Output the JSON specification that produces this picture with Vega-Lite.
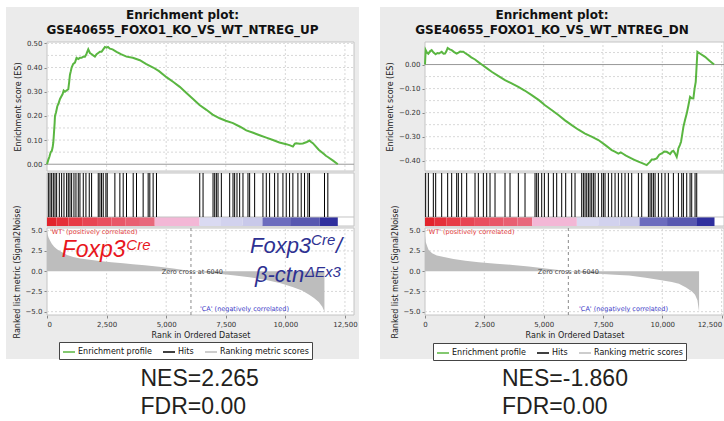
{
"$schema": "https://vega.github.io/schema/vega-lite/v6.json",
"background": "#ffffff",
"padding": {"left": 6, "top": 7, "right": 0, "bottom": 0},
"spacing": 21,
"resolve": {"scale": {"color": "independent"}, "legend": {"color": "independent"}},
"config": {
  "view": {"stroke": null},
  "axis": {"labelFont": "DejaVu Sans", "labelFontSize": 7, "labelColor": "#333333", "titleFont": "DejaVu Sans", "titleFontSize": 8, "titleFontWeight": "normal", "titleColor": "#222222", "tickColor": "#888888", "tickSize": 3, "labelPadding": 2, "titlePadding": 4, "grid": false, "domain": false}
},
"datasets": {
  "gridx": [{"rank": 2500}, {"rank": 5000}, {"rank": 7500}, {"rank": 10000}, {"rank": 12500}],
  "gyEsL": [{"v": 0.05}, {"v": 0.1}, {"v": 0.15}, {"v": 0.2}, {"v": 0.25}, {"v": 0.3}, {"v": 0.35}, {"v": 0.4}, {"v": 0.45}, {"v": 0.5}],
  "gyEsR": [{"v": -0.4}, {"v": -0.35}, {"v": -0.3}, {"v": -0.25}, {"v": -0.2}, {"v": -0.15}, {"v": -0.1}, {"v": -0.05}, {"v": 0.05}],
  "gyMet": [{"v": -5}, {"v": -2.5}, {"v": 2.5}, {"v": 5}],
  "bar": [
    {"start": 0, "end": 400, "score": 1}, {"start": 400, "end": 900, "score": 0.95}, {"start": 900, "end": 1500, "score": 0.9},
    {"start": 1500, "end": 2100, "score": 0.85}, {"start": 2100, "end": 2700, "score": 0.8}, {"start": 2700, "end": 3300, "score": 0.76},
    {"start": 3300, "end": 3900, "score": 0.72}, {"start": 3900, "end": 4520, "score": 0.67}, {"start": 4520, "end": 6400, "score": 0.3},
    {"start": 6400, "end": 7300, "score": -0.08}, {"start": 7300, "end": 8200, "score": -0.13}, {"start": 8200, "end": 9040, "score": -0.18},
    {"start": 9040, "end": 10200, "score": -0.6}, {"start": 10200, "end": 11430, "score": -0.65}, {"start": 11430, "end": 12200, "score": -1}
  ],
  "esL": [
    {"rank": 0, "es": 0}, {"rank": 60, "es": 0.02}, {"rank": 98, "es": 0.03}, {"rank": 154, "es": 0.05}, {"rank": 200, "es": 0.055},
    {"rank": 237, "es": 0.07}, {"rank": 265, "es": 0.09}, {"rank": 293, "es": 0.13}, {"rank": 320, "es": 0.17}, {"rank": 335, "es": 0.2},
    {"rank": 380, "es": 0.215}, {"rank": 433, "es": 0.24}, {"rank": 480, "es": 0.25}, {"rank": 545, "es": 0.27}, {"rank": 600, "es": 0.28},
    {"rank": 656, "es": 0.29}, {"rank": 700, "es": 0.305}, {"rank": 754, "es": 0.3}, {"rank": 820, "es": 0.305}, {"rank": 893, "es": 0.31},
    {"rank": 930, "es": 0.34}, {"rank": 963, "es": 0.37}, {"rank": 1000, "es": 0.385}, {"rank": 1033, "es": 0.4}, {"rank": 1100, "es": 0.415},
    {"rank": 1173, "es": 0.42}, {"rank": 1240, "es": 0.44}, {"rank": 1312, "es": 0.435}, {"rank": 1380, "es": 0.44}, {"rank": 1452, "es": 0.44},
    {"rank": 1520, "es": 0.445}, {"rank": 1591, "es": 0.445}, {"rank": 1650, "es": 0.455}, {"rank": 1731, "es": 0.475}, {"rank": 1800, "es": 0.46},
    {"rank": 1880, "es": 0.455}, {"rank": 1940, "es": 0.45}, {"rank": 2010, "es": 0.445}, {"rank": 2080, "es": 0.455}, {"rank": 2150, "es": 0.46},
    {"rank": 2220, "es": 0.465}, {"rank": 2289, "es": 0.465}, {"rank": 2360, "es": 0.475}, {"rank": 2430, "es": 0.485}, {"rank": 2499, "es": 0.482},
    {"rank": 2560, "es": 0.485}, {"rank": 2638, "es": 0.478}, {"rank": 2750, "es": 0.475}, {"rank": 2918, "es": 0.465}, {"rank": 3100, "es": 0.455},
    {"rank": 3336, "es": 0.445}, {"rank": 3600, "es": 0.44}, {"rank": 3895, "es": 0.43}, {"rank": 4150, "es": 0.415}, {"rank": 4453, "es": 0.4},
    {"rank": 4700, "es": 0.385}, {"rank": 5012, "es": 0.36}, {"rank": 5300, "es": 0.34}, {"rank": 5570, "es": 0.32}, {"rank": 5850, "es": 0.295},
    {"rank": 6128, "es": 0.27}, {"rank": 6400, "es": 0.245}, {"rank": 6687, "es": 0.225}, {"rank": 6950, "es": 0.205}, {"rank": 7245, "es": 0.19},
    {"rank": 7500, "es": 0.18}, {"rank": 7804, "es": 0.17}, {"rank": 8100, "es": 0.155}, {"rank": 8362, "es": 0.14}, {"rank": 8650, "es": 0.13},
    {"rank": 8920, "es": 0.12}, {"rank": 9200, "es": 0.11}, {"rank": 9479, "es": 0.1}, {"rank": 9750, "es": 0.09}, {"rank": 10037, "es": 0.083},
    {"rank": 10200, "es": 0.078}, {"rank": 10316, "es": 0.073}, {"rank": 10400, "es": 0.085}, {"rank": 10456, "es": 0.087}, {"rank": 10600, "es": 0.085},
    {"rank": 10735, "es": 0.086}, {"rank": 10900, "es": 0.092}, {"rank": 11015, "es": 0.098}, {"rank": 11080, "es": 0.092}, {"rank": 11154, "es": 0.087},
    {"rank": 11400, "es": 0.06}, {"rank": 11643, "es": 0.04}, {"rank": 11700, "es": 0.035}, {"rank": 11782, "es": 0.03}, {"rank": 12000, "es": 0.015},
    {"rank": 12200, "es": 0}
  ],
  "esR": [
    {"rank": 0, "es": 0}, {"rank": 28, "es": 0.06}, {"rank": 80, "es": 0.05}, {"rank": 141, "es": 0.045}, {"rank": 210, "es": 0.055},
    {"rank": 281, "es": 0.06}, {"rank": 360, "es": 0.05}, {"rank": 450, "es": 0.043}, {"rank": 520, "es": 0.048}, {"rank": 590, "es": 0.046},
    {"rank": 650, "es": 0.05}, {"rank": 702, "es": 0.053}, {"rank": 780, "es": 0.045}, {"rank": 843, "es": 0.046}, {"rank": 900, "es": 0.055},
    {"rank": 955, "es": 0.069}, {"rank": 1040, "es": 0.063}, {"rank": 1124, "es": 0.06}, {"rank": 1230, "es": 0.052}, {"rank": 1335, "es": 0.046},
    {"rank": 1410, "es": 0.05}, {"rank": 1480, "es": 0.054}, {"rank": 1546, "es": 0.053}, {"rank": 1616, "es": 0.053}, {"rank": 1700, "es": 0.047},
    {"rank": 1827, "es": 0.039}, {"rank": 1950, "es": 0.03}, {"rank": 2108, "es": 0.021}, {"rank": 2250, "es": 0.01}, {"rank": 2389, "es": 0},
    {"rank": 2600, "es": -0.015}, {"rank": 2810, "es": -0.03}, {"rank": 3100, "es": -0.048}, {"rank": 3372, "es": -0.065}, {"rank": 3650, "es": -0.078},
    {"rank": 3934, "es": -0.093}, {"rank": 4200, "es": -0.108}, {"rank": 4496, "es": -0.127}, {"rank": 4800, "es": -0.148}, {"rank": 5058, "es": -0.169},
    {"rank": 5350, "es": -0.19}, {"rank": 5620, "es": -0.21}, {"rank": 5900, "es": -0.232}, {"rank": 6182, "es": -0.252}, {"rank": 6450, "es": -0.27},
    {"rank": 6744, "es": -0.287}, {"rank": 7020, "es": -0.3}, {"rank": 7306, "es": -0.314}, {"rank": 7600, "es": -0.335}, {"rank": 7868, "es": -0.356},
    {"rank": 8000, "es": -0.362}, {"rank": 8149, "es": -0.37}, {"rank": 8250, "es": -0.365}, {"rank": 8360, "es": -0.372}, {"rank": 8450, "es": -0.378},
    {"rank": 8571, "es": -0.384}, {"rank": 8800, "es": -0.395}, {"rank": 8992, "es": -0.404}, {"rank": 9150, "es": -0.41}, {"rank": 9343, "es": -0.418},
    {"rank": 9414, "es": -0.411}, {"rank": 9480, "es": -0.405}, {"rank": 9554, "es": -0.395}, {"rank": 9650, "es": -0.395}, {"rank": 9765, "es": -0.39},
    {"rank": 9870, "es": -0.375}, {"rank": 9976, "es": -0.37}, {"rank": 10080, "es": -0.362}, {"rank": 10186, "es": -0.363}, {"rank": 10270, "es": -0.368},
    {"rank": 10327, "es": -0.372}, {"rank": 10400, "es": -0.362}, {"rank": 10467, "es": -0.359}, {"rank": 10540, "es": -0.37}, {"rank": 10608, "es": -0.384},
    {"rank": 10640, "es": -0.37}, {"rank": 10678, "es": -0.349}, {"rank": 10740, "es": -0.335}, {"rank": 10790, "es": -0.321}, {"rank": 10840, "es": -0.29},
    {"rank": 10889, "es": -0.259}, {"rank": 10960, "es": -0.23}, {"rank": 11029, "es": -0.204}, {"rank": 11100, "es": -0.17}, {"rank": 11170, "es": -0.134},
    {"rank": 11240, "es": -0.14}, {"rank": 11310, "es": -0.141}, {"rank": 11360, "es": -0.1}, {"rank": 11409, "es": -0.072}, {"rank": 11450, "es": 0},
    {"rank": 11479, "es": 0.053}, {"rank": 11600, "es": 0.045}, {"rank": 11802, "es": 0.032}, {"rank": 12000, "es": 0.015}, {"rank": 12181, "es": 0}
  ],
  "metL": [
    {"rank": 0, "m": 5.0}, {"rank": 20, "m": 4.6}, {"rank": 60, "m": 4.2}, {"rank": 125, "m": 3.8}, {"rank": 200, "m": 3.4},
    {"rank": 300, "m": 3.0}, {"rank": 420, "m": 2.7}, {"rank": 630, "m": 2.35}, {"rank": 840, "m": 2.0}, {"rank": 1100, "m": 1.75},
    {"rank": 1400, "m": 1.55}, {"rank": 1800, "m": 1.4}, {"rank": 2200, "m": 1.25}, {"rank": 2700, "m": 1.1}, {"rank": 3200, "m": 0.97},
    {"rank": 3600, "m": 0.86}, {"rank": 4100, "m": 0.72}, {"rank": 4700, "m": 0.55}, {"rank": 5300, "m": 0.33}, {"rank": 5800, "m": 0.1},
    {"rank": 6040, "m": 0}, {"rank": 6500, "m": -0.15}, {"rank": 7200, "m": -0.33}, {"rank": 7800, "m": -0.5}, {"rank": 8500, "m": -0.75},
    {"rank": 9200, "m": -1.1}, {"rank": 9800, "m": -1.5}, {"rank": 10300, "m": -1.95}, {"rank": 10700, "m": -2.4}, {"rank": 11000, "m": -2.9},
    {"rank": 11200, "m": -3.3}, {"rank": 11400, "m": -3.8}, {"rank": 11550, "m": -4.4}, {"rank": 11640, "m": -5.0}
  ],
  "metR": [
    {"rank": 0, "m": 4.4}, {"rank": 30, "m": 3.6}, {"rank": 100, "m": 3.0}, {"rank": 155, "m": 2.6}, {"rank": 300, "m": 2.2},
    {"rank": 500, "m": 1.95}, {"rank": 845, "m": 1.72}, {"rank": 1200, "m": 1.5}, {"rank": 1700, "m": 1.28}, {"rank": 2265, "m": 1.11},
    {"rank": 3000, "m": 0.93}, {"rank": 3700, "m": 0.76}, {"rank": 4370, "m": 0.58}, {"rank": 4900, "m": 0.4}, {"rank": 5450, "m": 0.2},
    {"rank": 6040, "m": 0}, {"rank": 6600, "m": -0.18}, {"rank": 7300, "m": -0.33}, {"rank": 8000, "m": -0.45}, {"rank": 8600, "m": -0.53},
    {"rank": 9300, "m": -0.8}, {"rank": 9900, "m": -1.1}, {"rank": 10400, "m": -1.35}, {"rank": 10700, "m": -1.56}, {"rank": 11000, "m": -2.0},
    {"rank": 11250, "m": -2.5}, {"rank": 11380, "m": -2.9}, {"rank": 11480, "m": -3.6}, {"rank": 11550, "m": -5.0}
  ],
  "hitsL": [
    {"rank": 56}, {"rank": 126}, {"rank": 195}, {"rank": 265}, {"rank": 335}, {"rank": 405}, {"rank": 517}, {"rank": 614}, {"rank": 712}, {"rank": 824},
    {"rank": 893}, {"rank": 963}, {"rank": 1033}, {"rank": 1131}, {"rank": 1215}, {"rank": 1312}, {"rank": 1382}, {"rank": 1522}, {"rank": 1633}, {"rank": 1773},
    {"rank": 1871}, {"rank": 2150}, {"rank": 2220}, {"rank": 2289}, {"rank": 2359}, {"rank": 2471}, {"rank": 2527}, {"rank": 2848}, {"rank": 3057}, {"rank": 3197},
    {"rank": 3336}, {"rank": 3616}, {"rank": 3755}, {"rank": 4034}, {"rank": 4244}, {"rank": 4314}, {"rank": 4453}, {"rank": 4593}, {"rank": 6408}, {"rank": 6547},
    {"rank": 6966}, {"rank": 7036}, {"rank": 7105}, {"rank": 7175}, {"rank": 7315}, {"rank": 7664}, {"rank": 7804}, {"rank": 7873}, {"rank": 7971}, {"rank": 8083},
    {"rank": 8222}, {"rank": 8432}, {"rank": 8502}, {"rank": 8711}, {"rank": 9060}, {"rank": 9200}, {"rank": 9339}, {"rank": 9549}, {"rank": 9688}, {"rank": 9898},
    {"rank": 10037}, {"rank": 10177}, {"rank": 10316}, {"rank": 10526}, {"rank": 10665}, {"rank": 10805}, {"rank": 10945}, {"rank": 11014}, {"rank": 11643}, {"rank": 11782}
  ],
  "hitsR": [
    {"rank": 28}, {"rank": 141}, {"rank": 351}, {"rank": 450}, {"rank": 703}, {"rank": 955}, {"rank": 1124}, {"rank": 1335}, {"rank": 1405}, {"rank": 1546},
    {"rank": 1756}, {"rank": 2108}, {"rank": 2248}, {"rank": 2459}, {"rank": 2599}, {"rank": 2740}, {"rank": 2951}, {"rank": 3372}, {"rank": 3583}, {"rank": 3934},
    {"rank": 4215}, {"rank": 4637}, {"rank": 4707}, {"rank": 4777}, {"rank": 4918}, {"rank": 5030}, {"rank": 5199}, {"rank": 5409}, {"rank": 5550}, {"rank": 5761},
    {"rank": 5929}, {"rank": 6182}, {"rank": 6323}, {"rank": 6604}, {"rank": 6674}, {"rank": 6744}, {"rank": 6815}, {"rank": 6885}, {"rank": 6955}, {"rank": 7025},
    {"rank": 7095}, {"rank": 7166}, {"rank": 7306}, {"rank": 7447}, {"rank": 7517}, {"rank": 7587}, {"rank": 7728}, {"rank": 7868}, {"rank": 8009}, {"rank": 8149},
    {"rank": 8290}, {"rank": 8430}, {"rank": 8571}, {"rank": 8711}, {"rank": 8992}, {"rank": 9133}, {"rank": 9414}, {"rank": 9484}, {"rank": 9554}, {"rank": 9624},
    {"rank": 9695}, {"rank": 9835}, {"rank": 9976}, {"rank": 10116}, {"rank": 10256}, {"rank": 10467}, {"rank": 10678}, {"rank": 10819}, {"rank": 10889}, {"rank": 11029},
    {"rank": 11170}, {"rank": 11240}, {"rank": 11381}, {"rank": 11451}
  ]
},
"hconcat": [
  {
    "spacing": 7,
    "vconcat": [
      {
        "width": 353, "height": 352,
        "view": {"fill": "#ebebeb", "stroke": null},
        "title": {"text": ["Enrichment plot:", "GSE40655_FOXO1_KO_VS_WT_NTREG_UP"], "offset": -30, "frame": "group", "anchor": "middle", "font": "DejaVu Sans", "fontSize": 12, "fontWeight": "bold", "lineHeight": 15.5, "color": "#111111"},
        "resolve": {"scale": {"y": "independent"}, "axis": {"y": "independent"}},
        "layer": [
          {"layer": [
            {"data": {"values": [{}]}, "mark": {"type": "rect", "fill": "#ffffff", "stroke": "#c4c4c4", "strokeWidth": 1},
             "encoding": {"x": {"datum": 0, "type": "quantitative", "scale": {"domain": [0, 12880], "range": [41, 348], "nice": false, "zero": false},
                     "axis": {"orient": "bottom", "offset": -44, "values": [0, 2500, 5000, 7500, 10000, 12500], "labelExpr": "format(datum.value, ',')", "title": "Rank in Ordered Dataset", "labelOverlap": false}},
               "x2": {"datum": 12880},
               "y": {"datum": -0.028, "type": "quantitative", "scale": {"domain": [-0.028, 0.5055], "range": [164, 35], "nice": false, "zero": false},
                     "axis": {"orient": "left", "offset": -41, "values": [0, 0.05, 0.1, 0.15, 0.2, 0.25, 0.3, 0.35, 0.4, 0.45, 0.5], "format": ".2f", "title": "Enrichment score (ES)", "labelOverlap": false}},
               "y2": {"datum": 0.5055}}},
            {"data": {"name": "gridx"}, "mark": {"type": "rule", "stroke": "#d8d8d8", "strokeDash": [2, 2]},
             "encoding": {"x": {"field": "rank", "type": "quantitative"}, "y": {"datum": -0.028, "type": "quantitative"}, "y2": {"datum": 0.5055}}},
            {"data": {"name": "gyEsL"}, "mark": {"type": "rule", "stroke": "#d8d8d8", "strokeDash": [2, 2]},
             "encoding": {"x": {"datum": 0, "type": "quantitative"}, "x2": {"datum": 12880}, "y": {"field": "v", "type": "quantitative"}}},
            {"data": {"values": [{}]}, "mark": {"type": "rule", "stroke": "#999999"},
             "encoding": {"x": {"datum": 0, "type": "quantitative"}, "x2": {"datum": 12880}, "y": {"datum": 0, "type": "quantitative"}}},
            {"data": {"name": "esL"}, "mark": {"type": "line", "strokeWidth": 2},
             "encoding": {"x": {"field": "rank", "type": "quantitative"}, "y": {"field": "es", "type": "quantitative"},
               "color": {"datum": "Enrichment profile", "type": "nominal",
                 "scale": {"domain": ["Enrichment profile", "Hits", "Ranking metric scores"], "range": ["#5ab641", "#000000", "#bdbdbd"]},
                 "legend": {"title": null, "orient": "none", "legendX": 53, "legendY": 335, "direction": "horizontal", "symbolType": "stroke", "symbolSize": 144, "symbolStrokeWidth": 1.5, "labelFont": "DejaVu Sans", "labelFontSize": 8, "labelColor": "#111111", "fillColor": "#ffffff", "strokeColor": "#444444", "padding": 3, "columnPadding": 8, "labelOffset": 2}}}}
          ]},
          {"layer": [
            {"data": {"values": [{}]}, "mark": {"type": "rect", "fill": "#ffffff", "stroke": "#c4c4c4", "strokeWidth": 1},
             "encoding": {"x": {"datum": 0, "type": "quantitative"}, "x2": {"datum": 12880},
               "y": {"datum": 0, "type": "quantitative", "scale": {"domain": [0, 1], "range": [219, 166], "nice": false, "zero": false}, "axis": null},
               "y2": {"datum": 1}}},
            {"data": {"name": "bar"}, "mark": {"type": "rect"},
             "encoding": {"x": {"field": "start", "type": "quantitative"}, "x2": {"field": "end"},
               "y": {"datum": 0, "type": "quantitative", "axis": null}, "y2": {"datum": 0.17},
               "fill": {"field": "score", "type": "quantitative", "legend": null,
                 "scale": {"type": "linear", "domain": [-1, -0.65, -0.6, -0.2, -0.08, 0.3, 0.67, 1], "range": ["#2f2f9e", "#5858b0", "#6c6cbe", "#c6c6e8", "#dadaf2", "#f3b7d6", "#e8687c", "#e2232b"]}}}},
            {"data": {"values": [{}]}, "mark": {"type": "rule", "stroke": "#c4c4c4"},
             "encoding": {"x": {"datum": 0, "type": "quantitative"}, "x2": {"datum": 12880}, "y": {"datum": 0.17, "type": "quantitative", "axis": null}}},
            {"data": {"name": "hitsL"}, "mark": {"type": "rule", "strokeWidth": 1},
             "encoding": {"x": {"field": "rank", "type": "quantitative"}, "y": {"datum": 0.17, "type": "quantitative", "axis": null}, "y2": {"datum": 1},
               "color": {"datum": "Hits", "type": "nominal"}}}
          ]},
          {"layer": [
            {"data": {"values": [{}]}, "mark": {"type": "rect", "fill": "#ffffff", "stroke": "#c4c4c4", "strokeWidth": 1},
             "encoding": {"x": {"datum": 0, "type": "quantitative"}, "x2": {"datum": 12880},
               "y": {"datum": -5.41, "type": "quantitative", "scale": {"domain": [-5.41, 5.33], "range": [308, 221], "nice": false, "zero": false},
                     "axis": {"orient": "left", "offset": -41, "values": [-5, -2.5, 0, 2.5, 5], "format": ".1f", "title": "Ranked list metric (Signal2Noise)", "labelOverlap": false}},
               "y2": {"datum": 5.33}}},
            {"data": {"name": "gridx"}, "mark": {"type": "rule", "stroke": "#d8d8d8", "strokeDash": [2, 2]},
             "encoding": {"x": {"field": "rank", "type": "quantitative"}, "y": {"datum": -5.41, "type": "quantitative"}, "y2": {"datum": 5.33}}},
            {"data": {"name": "gyMet"}, "mark": {"type": "rule", "stroke": "#d8d8d8", "strokeDash": [2, 2]},
             "encoding": {"x": {"datum": 0, "type": "quantitative"}, "x2": {"datum": 12880}, "y": {"field": "v", "type": "quantitative"}}},
            {"data": {"name": "metL"}, "mark": {"type": "area"},
             "encoding": {"x": {"field": "rank", "type": "quantitative"},
               "y": {"field": "m", "type": "quantitative"}, "y2": {"datum": 0},
               "color": {"datum": "Ranking metric scores", "type": "nominal"}}},
            {"data": {"values": [{"rank": 6040}]}, "mark": {"type": "rule", "stroke": "#8a8a8a", "strokeDash": [3, 3]},
             "encoding": {"x": {"field": "rank", "type": "quantitative"}, "y": {"datum": -5.41, "type": "quantitative"}, "y2": {"datum": 5.33}}},
            {"data": {"values": [{"rank": 126, "m": 4.87, "t": "'WT' (positively correlated)"}]}, "mark": {"type": "text", "align": "left", "baseline": "middle", "font": "DejaVu Sans", "fontSize": 6.5, "color": "#e23a3a"},
             "encoding": {"x": {"field": "rank", "type": "quantitative"}, "y": {"field": "m", "type": "quantitative"}, "text": {"field": "t"}}},
            {"data": {"values": [{"rank": 6100, "m": -0.06, "t": "Zero cross at 6040"}]}, "mark": {"type": "text", "align": "center", "baseline": "middle", "font": "DejaVu Sans", "fontSize": 6.5, "color": "#444444"},
             "encoding": {"x": {"field": "rank", "type": "quantitative"}, "y": {"field": "m", "type": "quantitative"}, "text": {"field": "t"}}},
            {"data": {"values": [{"rank": 6418, "m": -4.67, "t": "'CA' (negatively correlated)"}]}, "mark": {"type": "text", "align": "left", "baseline": "middle", "font": "DejaVu Sans", "fontSize": 6.5, "color": "#3c3cc8"},
             "encoding": {"x": {"field": "rank", "type": "quantitative"}, "y": {"field": "m", "type": "quantitative"}, "text": {"field": "t"}}},
            {"data": {"values": [{"rank": 617, "m": 1.79, "t": "Foxp3"}]}, "mark": {"type": "text", "align": "left", "baseline": "alphabetic", "font": "Liberation Sans", "fontStyle": "italic", "fontSize": 23, "color": "#e8161d"},
             "encoding": {"x": {"field": "rank", "type": "quantitative"}, "y": {"field": "m", "type": "quantitative"}, "text": {"field": "t"}}},
            {"data": {"values": [{"rank": 3330, "m": 2.61, "t": "Cre"}]}, "mark": {"type": "text", "align": "left", "baseline": "alphabetic", "font": "Liberation Sans", "fontStyle": "italic", "fontSize": 15, "color": "#e8161d"},
             "encoding": {"x": {"field": "rank", "type": "quantitative"}, "y": {"field": "m", "type": "quantitative"}, "text": {"field": "t"}}},
            {"data": {"values": [{"rank": 8515, "m": 2.21, "t": "Foxp3"}, {"rank": 12130, "m": 2.21, "t": "/"}, {"rank": 8725, "m": -1.3, "t": "β-ctn"}]}, "mark": {"type": "text", "align": "left", "baseline": "alphabetic", "font": "Liberation Sans", "fontStyle": "italic", "fontSize": 22, "color": "#2e3192"},
             "encoding": {"x": {"field": "rank", "type": "quantitative"}, "y": {"field": "m", "type": "quantitative"}, "text": {"field": "t"}}},
            {"data": {"values": [{"rank": 11080, "m": 3.23, "t": "Cre"}, {"rank": 10822, "m": -0.68, "t": "ΔEx3"}]}, "mark": {"type": "text", "align": "left", "baseline": "alphabetic", "font": "Liberation Sans", "fontStyle": "italic", "fontSize": 15, "color": "#2e3192"},
             "encoding": {"x": {"field": "rank", "type": "quantitative"}, "y": {"field": "m", "type": "quantitative"}, "text": {"field": "t"}}}
          ]}
        ]
      },
      {
        "width": 353, "height": 54,
        "view": {"stroke": null},
        "data": {"values": [{"line": "a", "t": "NES=2.265"}, {"line": "b", "t": "FDR=0.00"}]},
        "mark": {"type": "text", "align": "left", "baseline": "middle", "font": "Liberation Sans", "fontSize": 23, "color": "#231f20", "dx": -42},
        "encoding": {"y": {"field": "line", "type": "nominal", "axis": null, "scale": {"type": "point", "padding": 0.45}}, "text": {"field": "t"}}
      }
    ]
  },
  {
    "spacing": 7,
    "vconcat": [
      {
        "width": 344, "height": 352,
        "view": {"fill": "#ebebeb", "stroke": null},
        "title": {"text": ["Enrichment plot:", "GSE40655_FOXO1_KO_VS_WT_NTREG_DN"], "offset": -30, "frame": "group", "anchor": "middle", "font": "DejaVu Sans", "fontSize": 12, "fontWeight": "bold", "lineHeight": 15.5, "color": "#111111"},
        "resolve": {"scale": {"y": "independent"}, "axis": {"y": "independent"}},
        "layer": [
          {"layer": [
            {"data": {"values": [{}]}, "mark": {"type": "rect", "fill": "#ffffff", "stroke": "#c4c4c4", "strokeWidth": 1},
             "encoding": {"x": {"datum": 0, "type": "quantitative", "scale": {"domain": [0, 12600], "range": [45, 344], "nice": false, "zero": false},
                     "axis": {"orient": "bottom", "offset": -44, "values": [0, 2500, 5000, 7500, 10000, 12500], "labelExpr": "format(datum.value, ',')", "labelAlign": {"condition": {"test": "datum.value >= 12500", "value": "right"}, "value": "center"}, "title": "Rank in Ordered Dataset", "labelOverlap": false}},
               "x2": {"datum": 12600},
               "y": {"datum": -0.4427, "type": "quantitative", "scale": {"domain": [-0.4427, 0.0938], "range": [164, 35], "nice": false, "zero": false},
                     "axis": {"orient": "left", "offset": -45, "values": [-0.4, -0.35, -0.3, -0.25, -0.2, -0.15, -0.1, -0.05, 0, 0.05], "format": ".2f", "title": "Enrichment score (ES)", "labelOverlap": false}},
               "y2": {"datum": 0.0938}}},
            {"data": {"name": "gridx"}, "mark": {"type": "rule", "stroke": "#d8d8d8", "strokeDash": [2, 2]},
             "encoding": {"x": {"field": "rank", "type": "quantitative"}, "y": {"datum": -0.4427, "type": "quantitative"}, "y2": {"datum": 0.0938}}},
            {"data": {"name": "gyEsR"}, "mark": {"type": "rule", "stroke": "#d8d8d8", "strokeDash": [2, 2]},
             "encoding": {"x": {"datum": 0, "type": "quantitative"}, "x2": {"datum": 12600}, "y": {"field": "v", "type": "quantitative"}}},
            {"data": {"values": [{}]}, "mark": {"type": "rule", "stroke": "#999999"},
             "encoding": {"x": {"datum": 0, "type": "quantitative"}, "x2": {"datum": 12600}, "y": {"datum": 0, "type": "quantitative"}}},
            {"data": {"name": "esR"}, "mark": {"type": "line", "strokeWidth": 2},
             "encoding": {"x": {"field": "rank", "type": "quantitative"}, "y": {"field": "es", "type": "quantitative"},
               "color": {"datum": "Enrichment profile", "type": "nominal",
                 "scale": {"domain": ["Enrichment profile", "Hits", "Ranking metric scores"], "range": ["#5ab641", "#000000", "#bdbdbd"]},
                 "legend": {"title": null, "orient": "none", "legendX": 53, "legendY": 336, "direction": "horizontal", "symbolType": "stroke", "symbolSize": 144, "symbolStrokeWidth": 1.5, "labelFont": "DejaVu Sans", "labelFontSize": 8, "labelColor": "#111111", "fillColor": "#ffffff", "strokeColor": "#444444", "padding": 3, "columnPadding": 8, "labelOffset": 2}}}}
          ]},
          {"layer": [
            {"data": {"values": [{}]}, "mark": {"type": "rect", "fill": "#ffffff", "stroke": "#c4c4c4", "strokeWidth": 1},
             "encoding": {"x": {"datum": 0, "type": "quantitative"}, "x2": {"datum": 12600},
               "y": {"datum": 0, "type": "quantitative", "scale": {"domain": [0, 1], "range": [219, 166], "nice": false, "zero": false}, "axis": null},
               "y2": {"datum": 1}}},
            {"data": {"name": "bar"}, "mark": {"type": "rect"},
             "encoding": {"x": {"field": "start", "type": "quantitative"}, "x2": {"field": "end"},
               "y": {"datum": 0, "type": "quantitative", "axis": null}, "y2": {"datum": 0.17},
               "fill": {"field": "score", "type": "quantitative", "legend": null,
                 "scale": {"type": "linear", "domain": [-1, -0.65, -0.6, -0.2, -0.08, 0.3, 0.67, 1], "range": ["#2f2f9e", "#5858b0", "#6c6cbe", "#c6c6e8", "#dadaf2", "#f3b7d6", "#e8687c", "#e2232b"]}}}},
            {"data": {"values": [{}]}, "mark": {"type": "rule", "stroke": "#c4c4c4"},
             "encoding": {"x": {"datum": 0, "type": "quantitative"}, "x2": {"datum": 12600}, "y": {"datum": 0.17, "type": "quantitative", "axis": null}}},
            {"data": {"name": "hitsR"}, "mark": {"type": "rule", "strokeWidth": 1},
             "encoding": {"x": {"field": "rank", "type": "quantitative"}, "y": {"datum": 0.17, "type": "quantitative", "axis": null}, "y2": {"datum": 1},
               "color": {"datum": "Hits", "type": "nominal"}}}
          ]},
          {"layer": [
            {"data": {"values": [{}]}, "mark": {"type": "rect", "fill": "#ffffff", "stroke": "#c4c4c4", "strokeWidth": 1},
             "encoding": {"x": {"datum": 0, "type": "quantitative"}, "x2": {"datum": 12600},
               "y": {"datum": -5.41, "type": "quantitative", "scale": {"domain": [-5.41, 5.33], "range": [308, 221], "nice": false, "zero": false},
                     "axis": {"orient": "left", "offset": -45, "values": [-5, -2.5, 0, 2.5, 5], "format": ".1f", "title": "Ranked list metric (Signal2Noise)", "labelOverlap": false}},
               "y2": {"datum": 5.33}}},
            {"data": {"name": "gridx"}, "mark": {"type": "rule", "stroke": "#d8d8d8", "strokeDash": [2, 2]},
             "encoding": {"x": {"field": "rank", "type": "quantitative"}, "y": {"datum": -5.41, "type": "quantitative"}, "y2": {"datum": 5.33}}},
            {"data": {"name": "gyMet"}, "mark": {"type": "rule", "stroke": "#d8d8d8", "strokeDash": [2, 2]},
             "encoding": {"x": {"datum": 0, "type": "quantitative"}, "x2": {"datum": 12600}, "y": {"field": "v", "type": "quantitative"}}},
            {"data": {"name": "metR"}, "mark": {"type": "area"},
             "encoding": {"x": {"field": "rank", "type": "quantitative"},
               "y": {"field": "m", "type": "quantitative"}, "y2": {"datum": 0},
               "color": {"datum": "Ranking metric scores", "type": "nominal"}}},
            {"data": {"values": [{"rank": 6040}]}, "mark": {"type": "rule", "stroke": "#8a8a8a", "strokeDash": [3, 3]},
             "encoding": {"x": {"field": "rank", "type": "quantitative"}, "y": {"datum": -5.41, "type": "quantitative"}, "y2": {"datum": 5.33}}},
            {"data": {"values": [{"rank": 84, "m": 4.87, "t": "'WT' (positively correlated)"}]}, "mark": {"type": "text", "align": "left", "baseline": "middle", "font": "DejaVu Sans", "fontSize": 6.5, "color": "#e23a3a"},
             "encoding": {"x": {"field": "rank", "type": "quantitative"}, "y": {"field": "m", "type": "quantitative"}, "text": {"field": "t"}}},
            {"data": {"values": [{"rank": 6040, "m": -0.06, "t": "Zero cross at 6040"}]}, "mark": {"type": "text", "align": "center", "baseline": "middle", "font": "DejaVu Sans", "fontSize": 6.5, "color": "#444444"},
             "encoding": {"x": {"field": "rank", "type": "quantitative"}, "y": {"field": "m", "type": "quantitative"}, "text": {"field": "t"}}},
            {"data": {"values": [{"rank": 6492, "m": -4.67, "t": "'CA' (negatively correlated)"}]}, "mark": {"type": "text", "align": "left", "baseline": "middle", "font": "DejaVu Sans", "fontSize": 6.5, "color": "#3c3cc8"},
             "encoding": {"x": {"field": "rank", "type": "quantitative"}, "y": {"field": "m", "type": "quantitative"}, "text": {"field": "t"}}}
          ]}
        ]
      },
      {
        "width": 344, "height": 54,
        "view": {"stroke": null},
        "data": {"values": [{"line": "a", "t": "NES=-1.860"}, {"line": "b", "t": "FDR=0.00"}]},
        "mark": {"type": "text", "align": "left", "baseline": "middle", "font": "Liberation Sans", "fontSize": 23, "color": "#231f20", "dx": -50},
        "encoding": {"y": {"field": "line", "type": "nominal", "axis": null, "scale": {"type": "point", "padding": 0.45}}, "text": {"field": "t"}}
      }
    ]
  }
]
}
